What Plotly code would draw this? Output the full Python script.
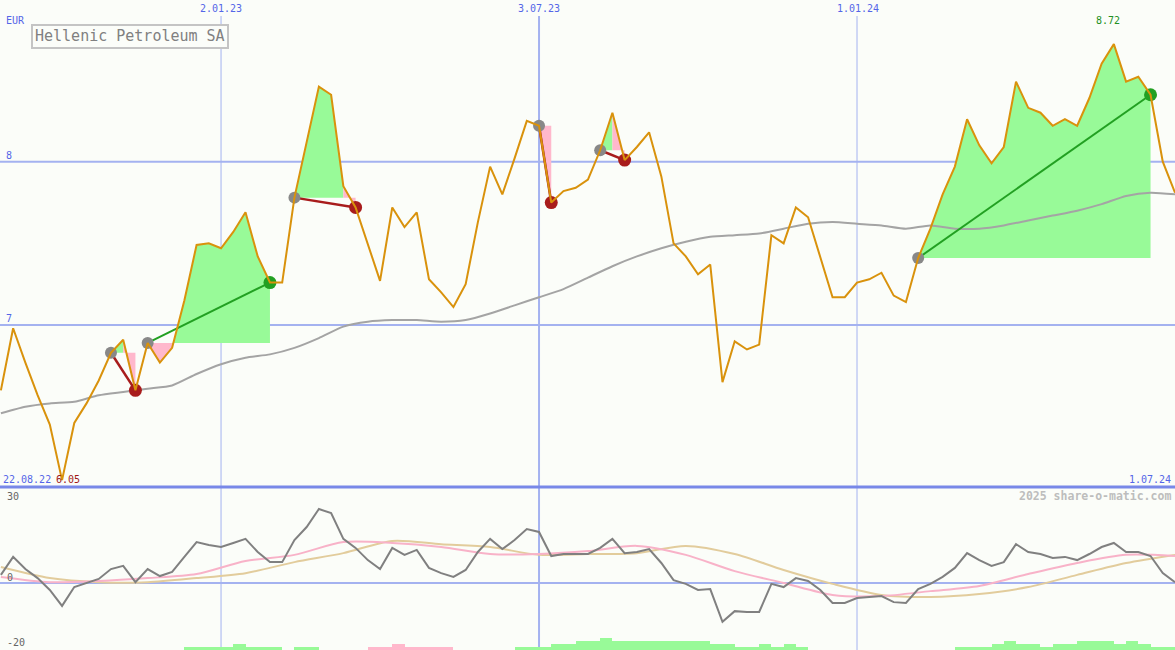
import plotly.graph_objects as go
import pandas as pd

# ---------------- data ----------------
start_date = "2022-08-29"
n_weeks = 97
dates = list(pd.date_range(start_date, periods=n_weeks, freq="7D"))

price = [6.60, 6.98, 6.77, 6.57, 6.39, 6.05, 6.40, 6.52, 6.66, 6.83,
         6.91, 6.60, 6.89, 6.77, 6.86, 7.15, 7.49, 7.50, 7.47, 7.57,
         7.69, 7.42, 7.26, 7.26, 7.78, 8.13, 8.46, 8.41, 7.85, 7.72,
         7.50, 7.27, 7.72, 7.60, 7.69, 7.28, 7.20, 7.11, 7.25, 7.63,
         7.97, 7.80, 8.02, 8.25, 8.22, 7.75, 7.82, 7.84, 7.89, 8.07,
         8.30, 8.01, 8.09, 8.18, 7.91, 7.50, 7.42, 7.31, 7.37, 6.65,
         6.90, 6.85, 6.88, 7.55, 7.50, 7.72, 7.66, 7.42, 7.17, 7.17,
         7.26, 7.28, 7.32, 7.18, 7.14, 7.41, 7.59, 7.80, 7.97, 8.26,
         8.10, 7.99, 8.09, 8.49, 8.33, 8.30, 8.22, 8.26, 8.22, 8.39,
         8.60, 8.72, 8.49, 8.52, 8.41, 8.00, 7.81]

# moving average, sampled every 2 weeks
ma_dates = dates[::2]
moving_avg = [6.46, 6.50, 6.52, 6.53, 6.57, 6.59, 6.61, 6.63, 6.70, 6.76,
              6.80, 6.82, 6.86, 6.92, 6.99, 7.02, 7.03, 7.03, 7.02, 7.03,
              7.07, 7.12, 7.17, 7.22, 7.29, 7.36, 7.42, 7.47, 7.51, 7.54,
              7.55, 7.56, 7.59, 7.62, 7.63, 7.62, 7.61, 7.59, 7.61, 7.59,
              7.59, 7.61, 7.64, 7.67, 7.70, 7.74, 7.79, 7.81, 7.80]

# oscillator panel
oscillator = [2.8, 9.0, 4.8, 1.7, -2.4, -7.9, -1.4, 0.0, 1.4, 4.8,
              5.9, 0.3, 4.8, 2.4, 3.8, 9.0, 14.1, 13.1, 12.4, 13.8,
              15.2, 10.7, 7.2, 7.2, 14.8, 19.3, 25.5, 24.1, 15.2, 12.1,
              7.9, 4.8, 12.1, 9.7, 11.4, 5.2, 3.4, 2.1, 4.5, 10.7,
              15.2, 11.7, 14.8, 18.6, 17.6, 9.3, 10.0, 10.0, 10.0, 12.1,
              15.2, 10.3, 10.7, 11.7, 6.9, 1.0, -0.3, -2.4, -2.1, -13.4,
              -9.7, -10.0, -10.0, -0.3, -1.4, 1.7, 0.7, -2.4, -6.9, -6.9,
              -5.2, -4.8, -4.5, -6.6, -6.9, -2.1, -0.3, 2.1, 5.2, 10.3,
              7.9, 5.9, 7.2, 13.4, 10.7, 10.0, 8.6, 9.0, 7.9, 10.0,
              12.4, 13.8, 10.7, 10.7, 9.3, 3.4, 0.3]
osc_dates = dates[::4]
osc_pink = [2.1, 0.3, 0.7, 1.7, 3.1, 7.6, 9.7, 14.1, 13.8, 12.4,
            10.0, 10.0, 11.0, 12.8, 9.7, 4.1, 0.0, -4.1, -4.5, -2.8,
            -1.0, 3.1, 6.9, 9.7, 9.3]
osc_tan = [5.5, 1.7, 0.3, 0.3, 1.7, 3.4, 7.2, 10.3, 14.5, 13.4,
           12.4, 9.7, 10.0, 10.3, 12.8, 10.0, 4.5, -0.3, -4.1, -4.8,
           -3.8, -1.4, 2.8, 6.9, 9.7]

# weekly signal histogram (one value per week interval; + green, - pink)
signal_bars = [0, 0, 0, 0, 0, 0, 0, 0, 0, 0,
               0, 0, 0, 0, 0, 1, 1, 1, 1, 2,
               1, 1, 1, 0, 1, 1, 0, 0, 0, 0,
               -1, -1, -2, -1, -1, -1, -1, 0, 0, 0,
               0, 0, 1, 1, 1, 2, 2, 3, 3, 4,
               3, 3, 3, 3, 3, 3, 3, 3, 2, 2,
               1, 1, 2, 1, 2, 1, 0, 0, 0, 0,
               0, 0, 0, 0, 0, 0, 0, 0, 1, 1,
               1, 2, 3, 2, 2, 1, 2, 2, 3, 3,
               3, 2, 3, 2, 1, 1]

# trade signals (week indices)
signal_start = [9, 12, 24, 44, 49, 75]
signal_end = [11, 22, 29, 45, 51, 94]

grid_dates = ["2023-01-02", "2023-07-03", "2024-01-01"]
grid_labels = ["2.01.23", "3.07.23", "1.01.24"]
price_levels = [8, 7]
osc_levels = [30, 0, -20]

# ---------------- styling ----------------
BG = "#fbfdf9"
ORANGE = "#d9920c"
GREEN_FILL = "#98fa98"
PINK_FILL = "#ffb8cc"
GRID = "#a4b2f0"
AXIS_DARK = "#7888e8"
LABEL_BLUE = "#5466e8"
MONO = "DejaVu Sans Mono"
W, H = 1175, 650
main_bottom = 487

fig = go.Figure()

# signal fills
gx, gy, px_, py_ = [], [], [], []
for s, e in zip(signal_start, signal_end):
    base = price[s]
    for i in range(s, e):
        xs = [dates[i], dates[i], dates[i + 1], dates[i + 1], dates[i], None]
        ys = [base, price[i], price[i + 1], base, base, None]
        if price[i + 1] >= base:
            gx += xs; gy += ys
        else:
            px_ += xs; py_ += ys
fig.add_trace(go.Scatter(x=gx, y=gy, fill="toself", fillcolor=GREEN_FILL, mode="lines",
                         line=dict(width=0, color=GREEN_FILL), hoverinfo="skip", xaxis="x", yaxis="y"))
fig.add_trace(go.Scatter(x=px_, y=py_, fill="toself", fillcolor=PINK_FILL, mode="lines",
                         line=dict(width=0, color=PINK_FILL), hoverinfo="skip", xaxis="x", yaxis="y"))

# moving average
fig.add_trace(go.Scatter(x=ma_dates, y=moving_avg, mode="lines",
                         line=dict(color="#a4a4a4", width=2, shape="spline", smoothing=0.6),
                         xaxis="x", yaxis="y"))

# signal lines and markers
for s, e in zip(signal_start, signal_end):
    win = price[e] >= price[s]
    col = "#22a022" if win else "#a81c1c"
    fig.add_trace(go.Scatter(x=[dates[s], dates[e]], y=[price[s], price[e]], mode="lines",
                             line=dict(color=col, width=2 if win else 2.5), xaxis="x", yaxis="y"))
    fig.add_trace(go.Scatter(x=[dates[s]], y=[price[s]], mode="markers",
                             marker=dict(color="#888888", size=12), xaxis="x", yaxis="y"))
    fig.add_trace(go.Scatter(x=[dates[e]], y=[price[e]], mode="markers",
                             marker=dict(color=col, size=13), xaxis="x", yaxis="y"))

# price line
fig.add_trace(go.Scatter(x=dates, y=price, mode="lines",
                         line=dict(color=ORANGE, width=2), xaxis="x", yaxis="y"))

# lower panel: histogram bars
bar_x = [d + pd.Timedelta(days=3.5) for d in dates[:-1]]
week_ms = 7 * 86400000
fig.add_trace(go.Bar(x=bar_x, y=[v if v > 0 else 0 for v in signal_bars], width=week_ms,
                     marker=dict(color=GREEN_FILL, line=dict(width=0)), xaxis="x2", yaxis="y3"))
fig.add_trace(go.Bar(x=bar_x, y=[-v if v < 0 else 0 for v in signal_bars], width=week_ms,
                     marker=dict(color=PINK_FILL, line=dict(width=0)), xaxis="x2", yaxis="y3"))

fig.add_trace(go.Scatter(x=osc_dates, y=osc_tan, mode="lines",
                         line=dict(color="#e2cc9c", width=2, shape="spline", smoothing=0.8),
                         xaxis="x2", yaxis="y2"))
fig.add_trace(go.Scatter(x=osc_dates, y=osc_pink, mode="lines",
                         line=dict(color="#f8b2c8", width=2, shape="spline", smoothing=0.8),
                         xaxis="x2", yaxis="y2"))
fig.add_trace(go.Scatter(x=dates, y=oscillator, mode="lines",
                         line=dict(color="#808080", width=2), xaxis="x2", yaxis="y2"))

# ---------------- axes ----------------
split = 1 - main_bottom / H
x_range = ["2022-08-28 11:38:00", "2024-07-01 00:00:00"]
hidden = dict(showgrid=False, zeroline=False, showticklabels=False, showline=False, ticks="")
main_lo = 8 - (main_bottom - 161.7) / 163.3
main_hi = 8 + 161.7 / 163.3
osc_hi = (583 - main_bottom) / 2.9
osc_lo = -(H - 583) / 2.9

fig.update_layout(
    width=W, height=H,
    margin=dict(l=0, r=0, t=0, b=0),
    paper_bgcolor=BG, plot_bgcolor=BG,
    showlegend=False, barmode="overlay", bargap=0,
    xaxis=dict(domain=[0, 1], range=x_range, type="date", anchor="y", **hidden),
    yaxis=dict(domain=[split, 1], range=[main_lo, main_hi], anchor="x", **hidden),
    xaxis2=dict(domain=[0, 1], range=x_range, type="date", anchor="y2", matches="x", **hidden),
    yaxis2=dict(domain=[0, split], range=[osc_lo, osc_hi], anchor="x2", **hidden),
    yaxis3=dict(domain=[0, split], range=[0, (H - main_bottom) / 3.0], overlaying="y2",
                anchor="x2", **hidden),
)

shapes = []
for d, lab in zip(grid_dates, grid_labels):
    shapes.append(dict(type="line", xref="x", yref="paper", x0=d, x1=d, y0=0, y1=1 - 16 / H,
                       line=dict(color=GRID, width=2 if lab == "3.07.23" else 1), layer="below"))
for lv in price_levels:
    shapes.append(dict(type="line", xref="paper", yref="y", x0=0, x1=1, y0=lv, y1=lv,
                       line=dict(color=GRID, width=2), layer="below"))
shapes.append(dict(type="line", xref="paper", yref="y2", x0=0, x1=1, y0=0, y1=0,
                   line=dict(color=GRID, width=2), layer="below"))
shapes.append(dict(type="line", xref="paper", yref="paper", x0=0, x1=1, y0=split, y1=split,
                   line=dict(color=AXIS_DARK, width=3), layer="above"))
# title box
shapes.append(dict(type="rect", xref="paper", yref="paper", x0=32 / W, x1=228 / W,
                   y0=1 - 48 / H, y1=1 - 25 / H, line=dict(color="#c4c4c4", width=2),
                   fillcolor=BG, layer="above"))
fig.update_layout(shapes=shapes)


def ann(text, x, y, color, size, xanchor="left", bold=False):
    fig.add_annotation(text=f"<b>{text}</b>" if bold else text, xref="paper", yref="paper",
                       x=x / W, y=1 - y / H, xanchor=xanchor, yanchor="middle",
                       showarrow=False, font=dict(family=MONO, size=size, color=color))


ann("EUR", 4, 20, LABEL_BLUE, 10)
for lv, py in zip(price_levels, [155, 318]):
    ann(str(lv), 4, py, LABEL_BLUE, 10)
for d, lab, px in zip(grid_dates, grid_labels, [221, 539, 858]):
    ann(lab, px, 9, LABEL_BLUE, 10, xanchor="center")
ann("22.08.22", 1, 479, LABEL_BLUE, 10)
ann(f"{min(price):.2f}", 54, 479, "#a01818", 10)
ann("1.07.24", 1173, 479, LABEL_BLUE, 10, xanchor="right")
ann(f"{max(price):.2f}", 1108, 21, "#229022", 10, xanchor="center")
ann("2025 share-o-matic.com", 1173, 496, "#bdbdbd", 11.5, xanchor="right", bold=True)
for lv, py in zip(osc_levels, [496, 577, 642]):
    ann(str(lv), 5, py, "#666666", 10)
ann("Hellenic Petroleum SA", 130, 36.5, "#808080", 15, xanchor="center")

fig.write_html("out.html", config={"displayModeBar": False},
               post_script="document.body.style.margin='0px';document.body.style.overflow='hidden';")
